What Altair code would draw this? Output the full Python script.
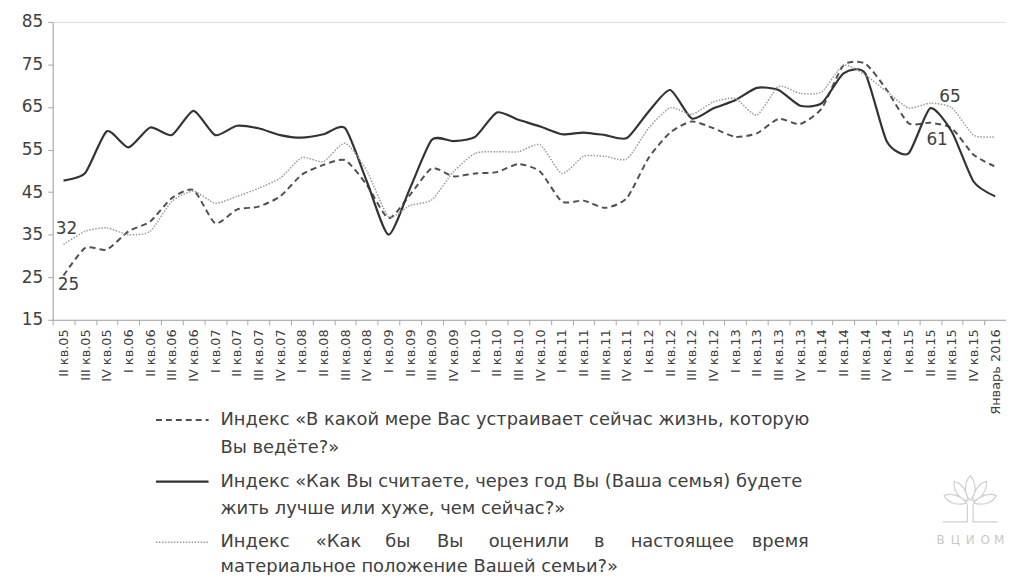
import altair as alt
import pandas as pd

categories = [
    "II кв.05", "III кв.05", "IV кв.05",
    "I кв.06", "II кв.06", "III кв.06", "IV кв.06",
    "I кв.07", "II кв.07", "III кв.07", "IV кв.07",
    "I кв.08", "II кв.08", "III кв.08", "IV кв.08",
    "I кв.09", "II кв.09", "III кв.09", "IV кв.09",
    "I кв.10", "II кв.10", "III кв.10", "IV кв.10",
    "I кв.11", "II кв.11", "III кв.11", "IV кв.11",
    "I кв.12", "II кв.12", "III кв.12", "IV кв.12",
    "I кв.13", "II кв.13", "III кв.13", "IV кв.13",
    "I кв.14", "II кв.14", "III кв.14", "IV кв.14",
    "I кв.15", "II кв.15", "III кв.15", "IV кв.15",
    "Январь 2016",
]

# dashed: life satisfaction
life_satisfaction = [
    25.4, 31.9, 31.5, 35.8, 38.1, 43.6, 45.5, 37.7, 40.9, 41.6, 44.0,
    49.1, 51.4, 52.5, 46.7, 38.9, 44.4, 50.6, 48.7, 49.4, 49.7, 51.6,
    49.8, 42.8, 43.0, 41.3, 43.6, 53.0, 59.0, 61.6, 60.0, 58.0, 58.8,
    62.2, 61.0, 64.7, 74.8, 75.2, 69.0, 61.2, 61.3, 60.0, 53.8, 51.0,
]
# solid: next-year expectations
future_expectations = [
    47.7, 49.5, 59.3, 55.5, 60.2, 58.4, 64.1, 58.4, 60.6, 60.0, 58.4,
    57.8, 58.6, 60.0, 47.5, 35.0, 46.0, 57.3, 57.0, 58.0, 63.7, 62.0,
    60.4, 58.6, 59.0, 58.4, 57.7, 63.9, 69.0, 62.3, 64.7, 66.6, 69.5,
    69.0, 65.3, 65.9, 72.9, 72.9, 56.9, 54.1, 64.7, 59.2, 47.5, 44.0,
]
# dotted: material position
material_position = [
    32.7, 35.8, 36.6, 35.0, 35.8, 42.8, 45.2, 42.4, 44.0, 45.9, 48.3,
    53.1, 52.2, 56.5, 50.0, 39.3, 41.9, 43.2, 49.8, 54.1, 54.5, 54.5,
    56.1, 49.4, 53.4, 53.4, 52.8, 60.0, 64.8, 63.3, 66.2, 67.0, 63.1,
    69.8, 68.2, 68.6, 74.8, 72.5, 68.6, 64.8, 65.9, 64.8, 58.4, 58.0,
]

series_keys = ["life", "future", "material"]

legend_lines = [
    ["Индекс «В какой мере Вас устраивает сейчас жизнь, которую", "Вы ведёте?»"],
    ["Индекс «Как Вы считаете, через год Вы (Ваша семья) будете", "жить лучше или хуже, чем сейчас?»"],
    [["Индекс", "«Как", "бы", "Вы", "оценили", "в", "настоящее", "время"],
     "материальное положение Вашей семьи?»"],
]

logo_letters = ["В", "Ц", "И", "О", "М"]

rows = []
for key, vals in zip(series_keys, [life_satisfaction, future_expectations, material_position]):
    for c, v in zip(categories, vals):
        rows.append({"cat": c, "value": v, "series": key})
df = pd.DataFrame(rows)

FONT = "DejaVu Sans"
LEG_FONT = "DejaVu Sans"
AXIS_COLOR = "#a6a6a6"
TEXT_COLOR = "#404040"

x_enc = alt.X(
    "cat:N", sort=categories,
    scale=alt.Scale(type="band", paddingInner=0, paddingOuter=0),
    bandPosition=0.5,
    axis=alt.Axis(
        title=None, labelAngle=270, tickBand="extent",
        labelFont=FONT, labelFontSize=13, labelColor=TEXT_COLOR,
        domainColor=AXIS_COLOR, tickColor=AXIS_COLOR, tickSize=5,
        labelPadding=4, grid=False, labelOverlap=False,
    ),
)
y_enc = alt.Y(
    "value:Q",
    scale=alt.Scale(domain=[15, 85], nice=False, zero=False),
    axis=alt.Axis(
        title=None, values=[15, 25, 35, 45, 55, 65, 75, 85], grid=False,
        labelFont=FONT, labelFontSize=17, labelColor=TEXT_COLOR,
        domainColor=AXIS_COLOR, tickColor=AXIS_COLOR, tickSize=5, labelPadding=5,
    ),
)

base = alt.Chart(df).encode(x=x_enc, y=y_enc)

styles = {
    "life": dict(color="#505050", strokeWidth=2, strokeDash=[6, 4]),
    "future": dict(color="#333333", strokeWidth=2.2),
    "material": dict(color="#9a9a9a", strokeWidth=1.5, strokeDash=[1.5, 1.5]),
}

layers = []
for key in series_keys:
    layers.append(
        base.transform_filter(alt.datum.series == key)
        .mark_line(interpolate="cardinal", tension=0.35, **styles[key])
    )

def data_label(key, idx, text, dx, dy):
    return base.transform_filter(
        (alt.datum.series == key) & (alt.datum.cat == categories[idx])
    ).mark_text(
        text=text, dx=dx, dy=dy, font=FONT, fontSize=17, color=TEXT_COLOR
    )

layers += [
    data_label("material", 0, "32", 3, -16),
    data_label("life", 0, "25", 5, 10),
    data_label("material", 40, "65", 20, -6),
    data_label("life", 40, "61", 7, 17),
]

one = alt.Data(values=[{"k": 1}])

# legend (positions in plot-area pixels)
sample_x0, sample_x1 = 104, 157
text_x = 169
row_y = [401, 463, 524]
line_gap = 28
for key, y in zip(series_keys, row_y):
    layers.append(
        alt.Chart(one).mark_rule(**styles[key]).encode(
            x=alt.value(sample_x0), x2=alt.value(sample_x1), y=alt.value(y)
        )
    )

def legend_text(txt, x, y, align="left"):
    return alt.Chart(one).mark_text(
        text=txt, align=align, baseline="middle", font=LEG_FONT, fontSize=18,
        color=TEXT_COLOR,
    ).encode(x=alt.value(x), y=alt.value(y))

layers.append(legend_text(legend_lines[0][0], text_x, row_y[0]))
layers.append(legend_text(legend_lines[0][1], text_x, row_y[0] + line_gap))
layers.append(legend_text(legend_lines[1][0], text_x, row_y[1]))
layers.append(legend_text(legend_lines[1][1], text_x, row_y[1] + line_gap))
word_x = [169, 265, 335, 387, 439, 545, 582, 704]
for w, wx in zip(legend_lines[2][0], word_x):
    layers.append(legend_text(w, wx, row_y[2]))
layers.append(legend_text(legend_lines[2][1], text_x, row_y[2] + line_gap - 3))

# logo
tree_path = (
    "M0,-1 C0.22,-0.75 0.22,-0.35 0,-0.15 C-0.22,-0.35 -0.22,-0.75 0,-1 Z "
    "M-0.08,-0.12 C-0.1,-0.5 -0.35,-0.75 -0.55,-0.8 C-0.6,-0.5 -0.4,-0.2 -0.08,-0.12 Z "
    "M0.08,-0.12 C0.1,-0.5 0.35,-0.75 0.55,-0.8 C0.6,-0.5 0.4,-0.2 0.08,-0.12 Z "
    "M-0.12,-0.05 C-0.35,-0.35 -0.7,-0.4 -0.9,-0.3 C-0.75,-0.05 -0.45,0.05 -0.12,-0.05 Z "
    "M0.12,-0.05 C0.35,-0.35 0.7,-0.4 0.9,-0.3 C0.75,-0.05 0.45,0.05 0.12,-0.05 Z "
    "M-0.1,0 L-0.1,0.6 L-0.95,0.6 M0.1,0 L0.1,0.6 L0.95,0.6"
)
layers.append(
    alt.Chart(one).mark_point(
        shape=tree_path, size=3400, filled=False, color="#cfcfcf", strokeWidth=1.2, opacity=1
    ).encode(x=alt.value(924), y=alt.value(486))
)
for letter, lx in zip(logo_letters, [894, 909, 924, 939, 953]):
    layers.append(
        alt.Chart(one).mark_text(
            text=letter, font="DejaVu Sans", fontSize=12, color="#c8c8c8",
            align="center", baseline="middle",
        ).encode(x=alt.value(lx), y=alt.value(522))
    )

chart = alt.layer(*layers).properties(
    width=960, height=300,
    padding={"left": 45, "top": 12, "right": 0, "bottom": 255},
    autosize=alt.AutoSizeParams(type="none"),
).configure_view(stroke=None).configure(background="white")

chart.save("out.html", embed_options={"renderer": "svg", "actions": False})
